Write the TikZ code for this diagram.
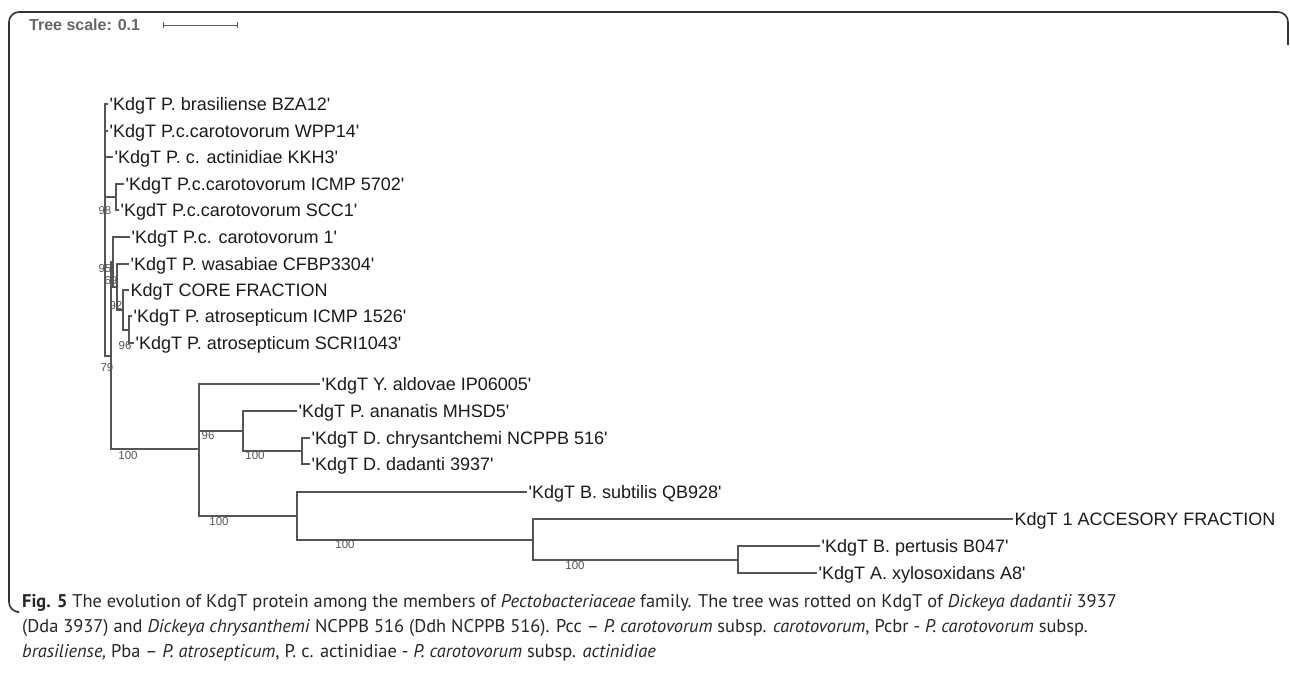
\documentclass[tikz,border=0pt]{standalone}
\usepackage{fontspec}
\newfontfamily\lab{Liberation Sans}
\newfontfamily\capfont{PT Sans}
\definecolor{treegray}{HTML}{555555}
\definecolor{labcol}{HTML}{1A1A1A}
\definecolor{bscol}{HTML}{555555}
\definecolor{framecol}{HTML}{333333}
\begin{document}
\begin{tikzpicture}[x=1pt,y=-1pt,
  br/.style={draw=treegray, line width=1.1pt},
  leaf/.style={anchor=west, inner xsep=1.5pt, inner ysep=0pt, text height=13pt, text depth=0pt, font=\lab\fontsize{18}{18}\selectfont, text=labcol},
  bs/.style={inner sep=0pt, font=\lab\fontsize{11.5}{11.5}\selectfont, text=bscol},
  capline/.style={anchor=base west, inner sep=0pt, font=\capfont\fontsize{18.4}{20}\selectfont, text=black!85}]
\useasboundingbox (0,0) rectangle (1290,681);
% frame
\draw[line width=1.6pt, framecol, rounded corners=10pt] (17,612) -- (9,612) -- (9,12) -- (1288,12) -- (1288,45);
% tree scale
\node[anchor=west, inner sep=0pt, font=\lab\bfseries\fontsize{16}{16}\selectfont, text=black!60] (ts) at (29,25) {Tree scale: 0.1};
\coordinate (sb1) at (163,25);
\coordinate (sb2) at (237,25);
\draw[treegray, line width=0.9pt] (sb1) -- (sb2);
\draw[treegray, line width=0.9pt] ([yshift=-3pt]sb1) -- ([yshift=3pt]sb1);
\draw[treegray, line width=0.9pt] ([yshift=-3pt]sb2) -- ([yshift=3pt]sb2);
% leaves
\node[leaf] (l1) at (108,104) {'KdgT P. brasiliense BZA12'};
\node[leaf] (l2) at (108,131) {'KdgT P.c.carotovorum WPP14'};
\node[leaf] (l3) at (113,157) {'KdgT P. c. actinidiae KKH3'};
\node[leaf] (l4) at (124,184) {'KdgT P.c.carotovorum ICMP 5702'};
\node[leaf] (l5) at (119,210) {'KgdT P.c.carotovorum SCC1'};
\node[leaf] (l6) at (130,237) {'KdgT P.c. carotovorum 1'};
\node[leaf] (l7) at (129,264) {'KdgT P. wasabiae CFBP3304'};
\node[leaf] (l8) at (129,290) {KdgT CORE FRACTION};
\node[leaf] (l9) at (132,316) {'KdgT P. atrosepticum ICMP 1526'};
\node[leaf] (l10) at (134,343) {'KdgT P. atrosepticum SCRI1043'};
\node[leaf] (l11) at (320,384) {'KdgT Y. aldovae IP06005'};
\node[leaf] (l12) at (297,411) {'KdgT P. ananatis MHSD5'};
\node[leaf] (l13) at (310,438) {'KdgT D. chrysantchemi NCPPB 516'};
\node[leaf] (l14) at (310,464) {'KdgT D. dadanti 3937'};
\node[leaf] (l15) at (527,492) {'KdgT B. subtilis QB928'};
\node[leaf] (l16) at (1013,519) {KdgT 1 ACCESORY FRACTION};
\node[leaf] (l17) at (820,546) {'KdgT B. pertusis B047'};
\node[leaf] (l18) at (817,573) {'KdgT A. xylosoxidans A8'};
% internal nodes
\coordinate (nA) at (105,230);
\coordinate (nB) at (116,197);
\coordinate (n79) at (111,356);
\coordinate (n95) at (113,262);
\coordinate (n69) at (117,287);
\coordinate (n92) at (123,310);
\coordinate (n96) at (129,330);
\coordinate (nR) at (199,449);
\coordinate (nE) at (243,431);
\coordinate (nD) at (302,451);
\coordinate (nS) at (297,516);
\coordinate (nC) at (533,540);
\coordinate (nP) at (738,560);
% branches
\foreach \c in {l1,l2,l3,l4,l5,l6,l7,l8,l9,l10,l11,l12,l13,l14,l15,l16,l17,l18}{\coordinate (\c w) at (\c.west);}
\draw[br] (nA) |- (l1w) (nA) |- (l2w) (nA) |- (l3w) (nA) |- (nB) (nA) |- (n79);
\draw[br] (nB) |- (l4w) (nB) |- (l5w);
\draw[br] (n79) |- (n95) (n79) |- (nR);
\draw[br] (n95) |- (l6w) (n95) |- (n69);
\draw[br] (n69) |- (l7w) (n69) |- (n92);
\draw[br] (n92) |- (l8w) (n92) |- (n96);
\draw[br] (n96) |- (l9w) (n96) |- (l10w);
\draw[br] (nR) |- (l11w) (nR) |- (nE) (nR) |- (nS);
\draw[br] (nE) |- (l12w) (nE) |- (nD);
\draw[br] (nD) |- (l13w) (nD) |- (l14w);
\draw[br] (nS) |- (l15w) (nS) |- (nC);
\draw[br] (nC) |- (l16w) (nC) |- (nP);
\draw[br] (nP) |- (l17w) (nP) |- (l18w);
% bootstrap values
\node[bs] (b98) at (105,211) {98};
\node[bs] (b95) at (105,269) {95};
\node[bs] (b69) at (111,281) {69};
\node[bs] (b92) at (116,306) {92};
\node[bs] (b96a) at (125,346) {96};
\node[bs] (b79) at (107,368) {79};
\node[bs] (b100a) at (128,456) {100};
\node[bs] (b96b) at (208,436) {96};
\node[bs] (b100b) at (255,456) {100};
\node[bs] (b100c) at (219,522) {100};
\node[bs] (b100d) at (345,545) {100};
\node[bs] (b100e) at (575,566) {100};
% caption
\node[capline] (c1) at (22,607) {\textbf{Fig. 5} The evolution of KdgT protein among the members of \textit{Pectobacteriaceae} family. The tree was rotted on KdgT of \textit{Dickeya dadantii} 3937};
\node[capline] (c2) at (22,632) {(Dda 3937) and \textit{Dickeya chrysanthemi} NCPPB 516 (Ddh NCPPB 516). Pcc – \textit{P. carotovorum} subsp. \textit{carotovorum}, Pcbr - \textit{P. carotovorum} subsp.};
\node[capline] (c3) at (22,657) {\textit{brasiliense,} Pba – \textit{P. atrosepticum}, P. c. actinidiae - \textit{P. carotovorum} subsp. \textit{actinidiae}};
\end{tikzpicture}
\end{document}
